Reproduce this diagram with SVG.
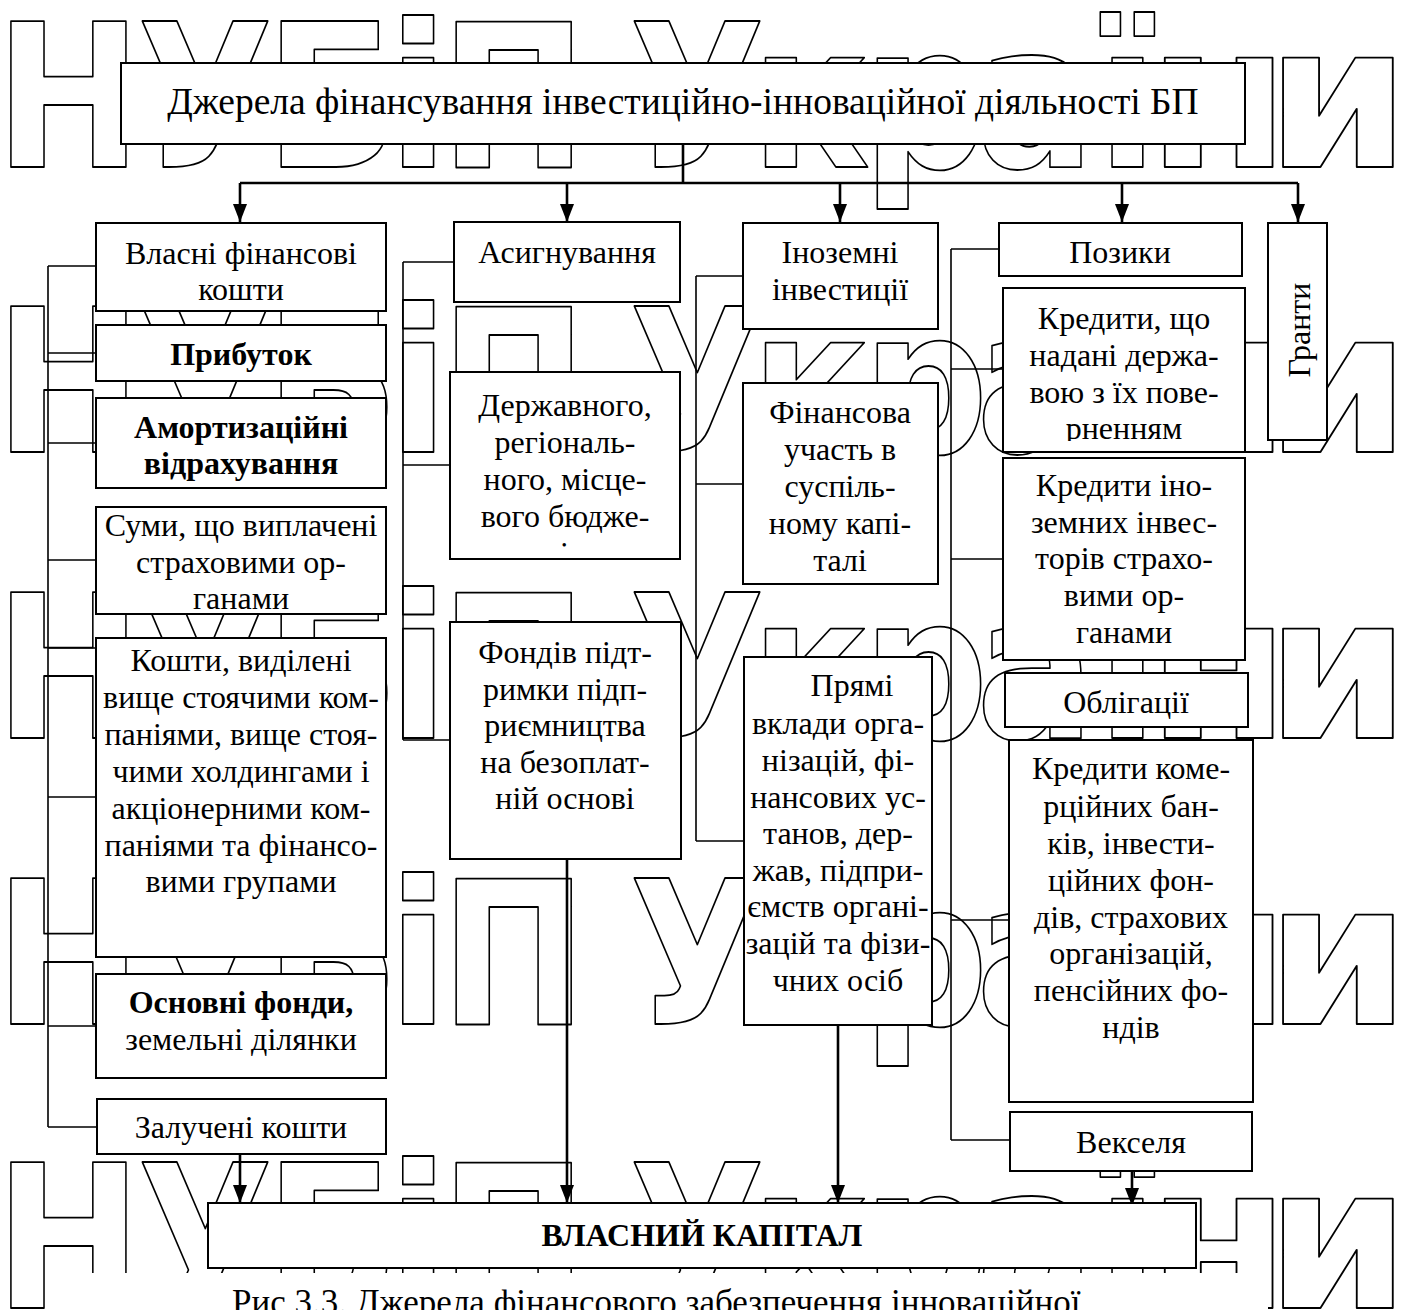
<svg xmlns="http://www.w3.org/2000/svg" width="1408" height="1310" viewBox="0 0 1408 1310">
<style>
.wm{font-family:"DejaVu Sans",sans-serif;font-weight:bold;font-size:200px;fill:none;stroke:#000;stroke-width:1.8;stroke-linejoin:round}
.box{fill:#fff;stroke:#000;stroke-width:2}
.t{font-family:"Liberation Serif","Times New Roman",serif;font-size:32px;text-anchor:middle;fill:#000}
.b{font-weight:bold}
.c{fill:none;stroke:#000;stroke-width:1.6}
.ca{fill:none;stroke:#000;stroke-width:2.6}
</style>
<defs>
<marker id="ah" markerUnits="userSpaceOnUse" markerWidth="18" markerHeight="14" refX="18" refY="7" orient="auto">
<path d="M0,0 L18,7 L0,14 z" fill="#000"/>
</marker>
<clipPath id="clipD"><rect x="450" y="372" width="230" height="176"/></clipPath>
<clipPath id="clipK"><rect x="1003" y="288" width="242" height="153"/></clipPath>
</defs>
<rect width="1408" height="1310" fill="#fff"/>
<g id="watermark">
<g transform="scale(0.88,1)">
<text class="wm" x="-6 156 301 441 500 650 715 853 980 1109 1247" y="167">НУБіП Украї</text>
<text class="wm" x="-6 156 301 441 500 650 715 853 980 1109 1247" y="452">НУБіП Украї</text>
<text class="wm" x="-6 156 301 441 500 650 715 853 980 1109 1247" y="738">НУБіП Украї</text>
<text class="wm" x="-6 156 301 441 500 650 715 853 980 1109 1247" y="1024">НУБіП Украї</text>
<text class="wm" x="-6 156 301 441 500 650 715 853 980 1109 1247" y="1308">НУБіП Украї</text>
</g>
<g transform="scale(1.03,1)">
<text class="wm" x="1114 1229" y="167">ни</text>
<text class="wm" x="1114 1229" y="452">ни</text>
<text class="wm" x="1114 1229" y="738">ни</text>
<text class="wm" x="1114 1229" y="1024">ни</text>
<text class="wm" x="1114 1229" y="1308">ни</text>
</g>
<rect x="48" y="1273" width="1220" height="37" fill="#fff"/>
<text class="t" style="text-anchor:start;font-size:35px" x="232" y="1314">Рис 3.3. Джерела фінансового забезпечення інноваційної</text>
</g>
<g id="connectors">
<path class="ca" d="M683,144 V183 M240,183 H1298"/>
<path class="ca" d="M240,183 V222" marker-end="url(#ah)"/>
<path class="ca" d="M567,183 V222" marker-end="url(#ah)"/>
<path class="ca" d="M840,183 V222" marker-end="url(#ah)"/>
<path class="ca" d="M1122,183 V222" marker-end="url(#ah)"/>
<path class="ca" d="M1298,183 V222" marker-end="url(#ah)"/>
<path class="c" d="M48,266 V1127 M48,266 H96 M48,353 H96 M48,443 H96 M48,560 H96 M48,648 H96 M48,797 H96 M48,1026 H96 M48,1127 H96"/>
<path class="c" d="M403,262 V740 M403,262 H454 M403,465 H450 M403,740 H450"/>
<path class="c" d="M696,276 V841 M696,276 H743 M696,484 H743 M696,841 H744"/>
<path class="c" d="M951,249 V1140 M951,249 H999 M951,369 H1003 M951,559 H1003 M951,920 H1009 M951,1140 H1010"/>
<path class="ca" d="M240,1154 V1203" marker-end="url(#ah)"/>
<path class="ca" d="M567,859 V1203" marker-end="url(#ah)"/>
<path class="ca" d="M838,1025 V1203" marker-end="url(#ah)"/>
<path class="ca" d="M1132,1171 V1206" marker-end="url(#ah)"/>
</g>
<g id="title"><rect class="box" x="121" y="63" width="1124" height="81"/>
<text class="t" style="font-size:37.5px" x="683" y="114">Джерела фінансування інвестиційно-інноваційної діяльності БП</text></g>
<g id="vlasni"><rect class="box" x="96" y="223" width="290" height="88"/>
<text class="t"><tspan x="241" y="264">Власні фінансові</tspan><tspan x="241" y="300">кошти</tspan></text></g>
<g id="prybutok"><rect class="box" x="96" y="325" width="290" height="56"/>
<text class="t b" x="241" y="365">Прибуток</text></g>
<g id="amort"><rect class="box" x="96" y="398" width="290" height="90"/>
<text class="t b"><tspan x="241" y="438">Амортизаційні</tspan><tspan x="241" y="474">відрахування</tspan></text></g>
<g id="sumy"><rect class="box" x="96" y="507" width="290" height="107"/>
<text class="t"><tspan x="241" y="536">Суми, що виплачені</tspan><tspan x="241" y="573">страховими ор-</tspan><tspan x="241" y="609">ганами</tspan></text></g>
<g id="koshty"><rect class="box" x="96" y="638" width="290" height="319"/>
<text class="t"><tspan x="241" y="671">Кошти, виділені</tspan><tspan x="241" y="708">вище стоячими ком-</tspan><tspan x="241" y="745">паніями, вище стоя-</tspan><tspan x="241" y="782">чими холдингами і</tspan><tspan x="241" y="819">акціонерними ком-</tspan><tspan x="241" y="856">паніями та фінансо-</tspan><tspan x="241" y="892">вими групами</tspan></text></g>
<g id="osnovni"><rect class="box" x="96" y="974" width="290" height="104"/>
<text class="t"><tspan class="b" x="241" y="1013">Основні фонди,</tspan><tspan x="241" y="1050">земельні ділянки</tspan></text></g>
<g id="zalucheni"><rect class="box" x="97" y="1099" width="289" height="55"/>
<text class="t" x="241" y="1138">Залучені кошти</text></g>
<g id="asyg"><rect class="box" x="454" y="222" width="226" height="80"/>
<text class="t" x="567" y="263">Асигнування</text></g>
<g id="derzh"><rect class="box" x="450" y="372" width="230" height="187"/>
<text class="t" clip-path="url(#clipD)"><tspan x="565" y="416">Державного,</tspan><tspan x="565" y="453">регіональ-</tspan><tspan x="565" y="490">ного, місце-</tspan><tspan x="565" y="527">вого бюдже-</tspan><tspan x="565" y="564">тів</tspan></text></g>
<g id="fondiv"><rect class="box" x="450" y="622" width="231" height="237"/>
<text class="t"><tspan x="565" y="663">Фондів підт-</tspan><tspan x="565" y="700">римки підп-</tspan><tspan x="565" y="736">риємництва</tspan><tspan x="565" y="773">на безоплат-</tspan><tspan x="565" y="809">ній основі</tspan></text></g>
<g id="inozemni"><rect class="box" x="743" y="223" width="195" height="106"/>
<text class="t"><tspan x="840" y="263">Іноземні</tspan><tspan x="840" y="300">інвестиції</tspan></text></g>
<g id="finuchast"><rect class="box" x="743" y="383" width="195" height="201"/>
<text class="t"><tspan x="840" y="423">Фінансова</tspan><tspan x="840" y="460">участь в</tspan><tspan x="840" y="497">суспіль-</tspan><tspan x="840" y="534">ному капі-</tspan><tspan x="840" y="571">талі</tspan></text></g>
<g id="pryami"><rect class="box" x="744" y="657" width="188" height="368"/>
<text class="t"><tspan x="852" y="696">Прямі</tspan><tspan x="838" y="734">вклади орга-</tspan><tspan x="838" y="771">нізацій, фі-</tspan><tspan x="838" y="808">нансових ус-</tspan><tspan x="838" y="844">танов, дер-</tspan><tspan x="838" y="881">жав, підпри-</tspan><tspan x="838" y="917">ємств органі-</tspan><tspan x="838" y="954">зацій та фізи-</tspan><tspan x="838" y="991">чних осіб</tspan></text></g>
<g id="pozyky"><rect class="box" x="999" y="223" width="243" height="53"/>
<text class="t" x="1120" y="263">Позики</text></g>
<g id="granty"><rect class="box" x="1268" y="223" width="59" height="217"/>
<text class="t" transform="translate(1310,330) rotate(-90)" x="0" y="0">Гранти</text></g>
<g id="kred1"><rect class="box" x="1003" y="288" width="242" height="164"/>
<text class="t" clip-path="url(#clipK)"><tspan x="1124" y="329">Кредити, що</tspan><tspan x="1124" y="366">надані держа-</tspan><tspan x="1124" y="403">вою з їх пове-</tspan><tspan x="1124" y="439">рненням</tspan></text></g>
<g id="kred2"><rect class="box" x="1003" y="458" width="242" height="202"/>
<text class="t"><tspan x="1124" y="496">Кредити іно-</tspan><tspan x="1124" y="533">земних інвес-</tspan><tspan x="1124" y="569">торів страхо-</tspan><tspan x="1124" y="606">вими ор-</tspan><tspan x="1124" y="643">ганами</tspan></text></g>
<g id="obligacii"><rect class="box" x="1005" y="673" width="243" height="54"/>
<text class="t" x="1126" y="713">Облігації</text></g>
<g id="kred3"><rect class="box" x="1009" y="740" width="244" height="362"/>
<text class="t"><tspan x="1131" y="779">Кредити коме-</tspan><tspan x="1131" y="817">рційних бан-</tspan><tspan x="1131" y="854">ків, інвести-</tspan><tspan x="1131" y="891">ційних фон-</tspan><tspan x="1131" y="928">дів, страхових</tspan><tspan x="1131" y="964">організацій,</tspan><tspan x="1131" y="1001">пенсійних фо-</tspan><tspan x="1131" y="1038">ндів</tspan></text></g>
<g id="vekselya"><rect class="box" x="1010" y="1112" width="242" height="59"/>
<text class="t" x="1131" y="1153">Векселя</text></g>
<g id="kapital"><rect class="box" x="208" y="1203" width="988" height="65"/>
<text class="t b" x="702" y="1246">ВЛАСНИЙ КАПІТАЛ</text></g>
</svg>
